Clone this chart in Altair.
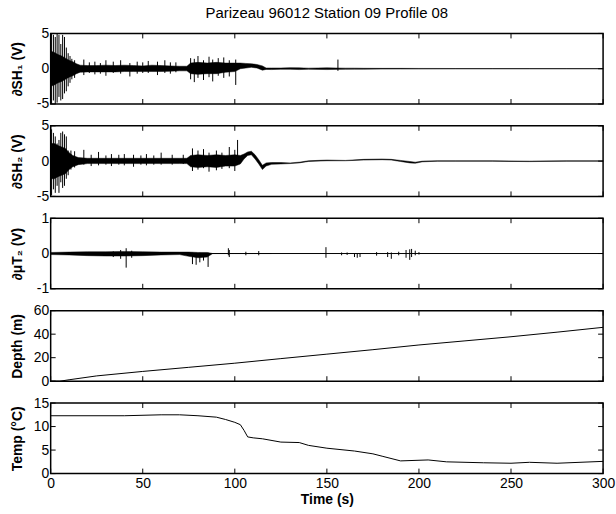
import altair as alt
import pandas as pd

# ---------------- data ----------------
X_TICKS = [0, 50, 100, 150, 200, 250, 300]

# dSH1 noise envelope
sh1_t  = [0, 2, 4, 6, 8, 10, 12, 14, 16, 20, 25, 30, 35, 40, 45, 50, 55, 60, 65, 70, 74, 76, 80, 85, 90, 95, 100, 103, 106, 109, 112, 115, 117, 120, 125, 130, 135, 140, 150, 160, 165, 170, 180, 190, 200, 220, 240, 260, 280, 300]
sh1_hi = [2.5, 2.3, 2.0, 1.8, 1.5, 1.2, 1.0, 0.7, 0.5, 0.45, 0.45, 0.5, 0.45, 0.5, 0.45, 0.4, 0.5, 0.45, 0.4, 0.35, 0.35, 0.8, 0.9, 0.8, 0.9, 0.8, 0.8, 0.8, 0.75, 0.7, 0.6, 0.4, 0.1, 0.1, 0.1, 0.15, 0.12, 0.08, 0.12, 0.08, 0.08, 0.06, 0.05, 0.05, 0.04, 0.03, 0.03, 0.03, 0.03, 0.03]
sh1_lo = [-2.5, -2.3, -2.0, -1.8, -1.5, -1.2, -1.0, -0.7, -0.5, -0.45, -0.45, -0.45, -0.45, -0.4, -0.4, -0.4, -0.4, -0.4, -0.35, -0.3, -0.3, -0.7, -0.8, -0.7, -0.7, -0.5, -0.4, 0.0, 0.1, 0.2, 0.1, -0.2, -0.1, -0.12, -0.08, -0.08, -0.12, -0.08, -0.12, -0.08, -0.06, -0.06, -0.05, -0.04, -0.04, -0.03, -0.03, -0.03, -0.03, -0.03]
# dSH1 individual spikes
sh1_sp_t  = [0.5, 1.5, 2.5, 3.5, 4.5, 5.5, 6.5, 7.5, 8.5, 9.5, 10.5, 11.5, 13, 18, 21, 24, 27, 30, 34, 38, 43, 47, 50, 53, 58, 62, 65, 68, 76, 78, 80, 83, 86, 88, 91, 94, 97, 100.5, 156]
sh1_sp_lo = [-5, -4.5, -5, -4.8, -4, -4.5, -4.3, -3.5, -3.2, -2.5, -2, -1.5, -1.3, -0.9, -0.6, -0.8, -0.7, -1.0, -0.6, -0.7, -1.1, -0.7, -0.6, -0.6, -0.9, -0.6, -0.7, -0.5, -1.5, -1.9, -1.3, -1.6, -1.2, -1.8, -1.0, -1.3, -1.1, -2.3, -0.3]
sh1_sp_hi = [5, 4.8, 4.5, 5, 4.8, 3.5, 4.8, 4.5, 3, 2.2, 1.8, 1.4, 1.2, 1.3, 0.9, 1.0, 0.8, 1.2, 1.0, 1.2, 0.8, 1.0, 0.9, 1.1, 1.0, 1.2, 0.9, 0.9, 1.5, 1.4, 1.8, 1.2, 1.7, 1.3, 1.5, 1.6, 1.2, 1.3, 1.3]

# dSH2 noise envelope
sh2_t  = [0, 2, 4, 6, 8, 10, 12, 15, 20, 30, 40, 50, 60, 70, 74, 76, 80, 85, 90, 95, 100, 103, 105, 107, 109, 111, 113, 115, 117, 120, 125, 130, 135, 140, 150, 160, 170, 180, 185, 190, 195, 198, 202, 210, 220, 240, 260, 280, 300]
sh2_hi = [2.5, 2.5, 2.2, 2.0, 1.8, 1.2, 0.8, 0.5, 0.4, 0.4, 0.4, 0.4, 0.4, 0.4, 0.4, 0.8, 0.9, 0.8, 0.9, 0.8, 0.9, 0.8, 1.0, 1.3, 1.4, 0.9, 0.2, -0.6, -0.25, -0.2, -0.2, -0.25, -0.15, 0.05, 0.15, 0.1, 0.25, 0.3, 0.25, 0.1, -0.05, -0.15, 0.0, 0.05, 0.05, 0.05, 0.0, 0.05, 0.05]
sh2_lo = [-2.5, -2.5, -2.2, -2.0, -1.8, -1.2, -0.8, -0.5, -0.35, -0.35, -0.35, -0.35, -0.35, -0.35, -0.35, -0.8, -0.9, -0.8, -0.9, -0.7, -0.7, -0.4, 0.3, 0.8, 0.9, 0.3, -0.4, -1.2, -0.7, -0.45, -0.4, -0.35, -0.25, -0.05, 0.05, 0.05, 0.15, 0.2, 0.15, -0.05, -0.25, -0.3, -0.1, -0.02, -0.02, -0.02, -0.07, -0.02, -0.02]
sh2_sp_t  = [0.5, 1.5, 2.5, 3.5, 4.5, 5.5, 6.5, 7.5, 8.5, 9.5, 11, 13, 18, 22, 26, 30, 33, 37, 40, 45, 49, 52, 56, 60, 66, 72, 77, 80, 83, 86, 90, 93, 97, 100, 101.5]
sh2_sp_lo = [-4.8, -4, -4.5, -3.5, -4.5, -3, -3.8, -3.5, -2.5, -2.0, -1.2, -0.9, -0.5, -0.7, -0.6, -0.5, -0.7, -0.5, -0.6, -0.8, -0.5, -0.6, -0.5, -0.5, -0.5, -0.4, -1.4, -1.2, -1.0, -1.5, -1.3, -1.1, -1.0, -1.4, -0.5]
sh2_sp_hi = [4.5, 4, 3.5, 2.5, 3, 4, 4.2, 3.8, 3.5, 1.5, 1.5, 1.4, 1.6, 0.9, 1.3, 0.8, 1.0, 0.9, 1.0, 0.9, 0.8, 1.0, 0.8, 1.2, 0.9, 0.9, 1.8, 1.5, 1.7, 1.2, 1.5, 1.2, 2.0, 1.6, 3.0]

# d(mu)T2
ut2_base_t = [0, 300]
ut2_base_v = [0, 0]
ut2_t  = [0, 10, 20, 30, 40, 50, 60, 70, 75, 80, 85, 88, 95, 100, 110, 120]
ut2_hi = [0.03, 0.04, 0.05, 0.05, 0.06, 0.05, 0.04, 0.04, 0.04, 0.03, 0.03, 0.0, 0.0, 0.0, 0.0, 0.0]
ut2_lo = [-0.03, -0.04, -0.06, -0.07, -0.07, -0.06, -0.04, -0.03, -0.08, -0.12, -0.1, 0.0, 0.0, 0.0, 0.0, 0.0]
ut2_sp_t  = [34, 38, 41, 44, 77, 79, 81, 83, 85.5, 96.5, 97, 106, 113, 149.5, 158, 161, 165, 166.5, 168, 177, 183, 185, 189, 193, 195, 196, 198, 200]
ut2_sp_lo = [-0.1, -0.15, -0.4, -0.12, -0.3, -0.32, -0.25, -0.2, -0.38, -0.05, -0.1, -0.05, -0.05, -0.12, -0.05, -0.04, -0.1, -0.12, -0.1, -0.06, -0.1, -0.15, -0.05, -0.12, -0.18, -0.1, -0.05, -0.03]
ut2_sp_hi = [0.06, 0.1, 0.15, 0.08, 0.02, 0.02, 0.02, 0.0, 0.02, 0.15, 0.1, 0.05, 0.07, 0.18, 0.03, 0.03, 0.0, 0.0, 0.0, 0.04, 0.04, 0.03, 0.05, 0.1, 0.12, 0.13, 0.08, 0.04]

# Depth
depth_t = [0, 5, 10, 25, 50, 75, 100, 125, 150, 175, 200, 225, 250, 275, 300]
depth_v = [0, 0, 1.2, 4.5, 8.3, 11.8, 15.3, 19.2, 23, 26.8, 30.8, 34.3, 37.8, 41.7, 45.8]

# Temperature
temp_t = [0, 40, 60, 70, 80, 90, 95, 100, 103, 105, 107, 110, 115, 125, 135, 140, 150, 165, 175, 180, 190, 205, 215, 235, 250, 260, 275, 300]
temp_v = [12.3, 12.3, 12.5, 12.5, 12.3, 12.0, 11.5, 10.9, 10.4, 9.2, 7.8, 7.6, 7.4, 6.7, 6.6, 6.0, 5.4, 4.8, 4.2, 3.7, 2.7, 2.9, 2.5, 2.3, 2.2, 2.4, 2.2, 2.6]

# ---------------- layout / style ----------------
W, H = 556, 71
FONT = "Liberation Sans"
XS = alt.Scale(domain=[0, 300], nice=False, zero=False)


def panel(ytitle, ydomain, yticks, layers, bottom=False, title=None):
    ys = alt.Scale(domain=ydomain, nice=False, zero=False)
    if bottom:
        xaxis = alt.Axis(values=X_TICKS, ticks=False, domain=False, grid=False,
                         labelFlush=False, labelOverlap=False, labelPadding=3, labelFontSize=14,
                         title="Time (s)", titleFontSize=14, titleFontWeight="bold",
                         titlePadding=2)
    else:
        xaxis = None
    yaxis = alt.Axis(values=yticks, ticks=False, domain=False, grid=False,
                     labelExpr="round(datum.value)",
                     labelPadding=2, labelFontSize=14, labelFlush=False, labelOverlap=False,
                     minExtent=22, maxExtent=22,
                     title=ytitle, titleFontSize=14, titleFontWeight="bold",
                     titlePadding=4)
    X = lambda f: alt.X(f, scale=XS, axis=xaxis)
    Y = lambda f: alt.Y(f, scale=ys, axis=yaxis)
    charts = []
    for df, kind in layers:
        if kind == "area":
            c = alt.Chart(df).mark_area(color="black", stroke="black", strokeWidth=0.5).encode(
                x=X("t:Q"), y=Y("hi:Q"), y2="lo:Q")
        elif kind == "rule":
            c = alt.Chart(df).mark_rule(color="black", strokeWidth=1).encode(
                x=X("t:Q"), y=Y("hi:Q"), y2="lo:Q")
        else:
            c = alt.Chart(df).mark_line(color="black", strokeWidth=1).encode(
                x=X("t:Q"), y=Y("v:Q"))
        charts.append(c)
    xt = pd.DataFrame({"t": X_TICKS})
    yt = pd.DataFrame({"v": yticks})
    charts += [
        alt.Chart(xt).mark_rule(color="black").encode(
            x=X("t:Q"), y=alt.value(0), y2=alt.value(5)),
        alt.Chart(xt).mark_rule(color="black").encode(
            x=X("t:Q"), y=alt.value(H), y2=alt.value(H - 5)),
        alt.Chart(yt).mark_rule(color="black").encode(
            y=Y("v:Q"), x=alt.value(0), x2=alt.value(5)),
        alt.Chart(yt).mark_rule(color="black").encode(
            y=Y("v:Q"), x=alt.value(W - 5), x2=alt.value(W)),
    ]
    props = dict(width=W, height=H)
    if title:
        props["title"] = alt.TitleParams(title, fontSize=15, fontWeight="normal", font=FONT,
                                         anchor="middle", frame="group", offset=6)
    return alt.layer(*charts).properties(**props)


def band(t, hi, lo):
    return pd.DataFrame({"t": t, "hi": hi, "lo": lo})


p1 = panel("∂SH₁ (V)", [-5, 5], [-5, 0, 5],
           [(band(sh1_t, sh1_hi, sh1_lo), "area"), (band(sh1_sp_t, sh1_sp_hi, sh1_sp_lo), "rule")],
           title="Parizeau 96012 Station 09 Profile 08")
p2 = panel("∂SH₂ (V)", [-5, 5], [-5, 0, 5],
           [(band(sh2_t, sh2_hi, sh2_lo), "area"), (band(sh2_sp_t, sh2_sp_hi, sh2_sp_lo), "rule")])
p3 = panel("∂μT₂ (V)", [-1, 1], [-1, 0, 1],
           [(band(ut2_t, ut2_hi, ut2_lo), "area"),
            (pd.DataFrame({"t": ut2_base_t, "v": ut2_base_v}), "line"),
            (band(ut2_sp_t, ut2_sp_hi, ut2_sp_lo), "rule")])
p4 = panel("Depth (m)", [0, 60], [0, 20, 40, 60],
           [(pd.DataFrame({"t": depth_t, "v": depth_v}), "line")])
p5 = panel("Temp (°C)", [0, 15], [0, 5, 10, 15],
           [(pd.DataFrame({"t": temp_t, "v": temp_v}), "line")], bottom=True)

chart = alt.vconcat(p1, p2, p3, p4, p5, spacing=22, bounds="flush").properties(
    padding={"left": 10, "top": 3, "right": 0, "bottom": 4}
).configure(font=FONT).configure_view(
    stroke="black", strokeWidth=1.5
).configure_axis(
    labelFont=FONT, titleFont=FONT, labelColor="black", titleColor="black"
)

chart.save("out.html", embed_options={"renderer": "svg", "actions": False})
